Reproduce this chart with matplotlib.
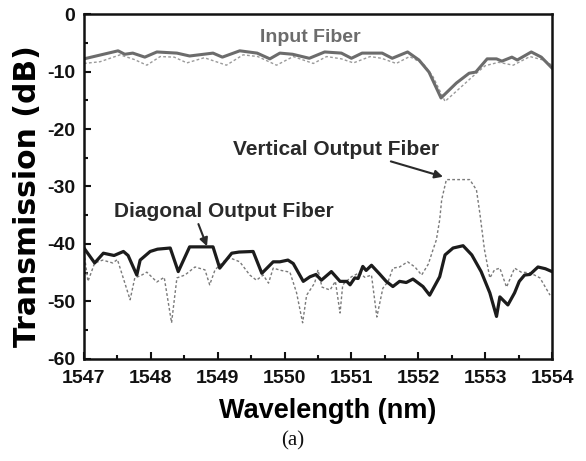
import matplotlib
matplotlib.use("Agg")
import matplotlib.pyplot as plt
from matplotlib.ticker import MultipleLocator

# ---- data ----
input_solid_x = [1547.0, 1547.51, 1547.61, 1547.73, 1547.91, 1548.09, 1548.39, 1548.58, 1548.93, 1549.07,
                 1549.33, 1549.59, 1549.78, 1549.93, 1550.12, 1550.37, 1550.6, 1550.85, 1551.0, 1551.16,
                 1551.46, 1551.61, 1551.84, 1552.01, 1552.16, 1552.34, 1552.57, 1552.76, 1552.86, 1553.03,
                 1553.17, 1553.25, 1553.4, 1553.48, 1553.69, 1553.84, 1554.0]
input_solid_y = [-7.8, -6.4, -7.0, -6.8, -7.5, -6.6, -6.8, -7.3, -6.8, -7.5,
                 -6.4, -6.8, -7.8, -6.8, -7.0, -7.7, -6.6, -6.8, -7.7, -6.8,
                 -6.8, -7.7, -6.6, -8.0, -10.1, -14.6, -12.0, -10.3, -10.1, -7.8,
                 -7.8, -8.2, -7.5, -8.0, -6.6, -7.5, -9.4]

input_dot_x = [1547.0, 1547.24, 1547.54, 1547.75, 1547.94, 1548.14, 1548.35, 1548.54, 1548.8, 1549.13,
               1549.38, 1549.6, 1549.88, 1550.13, 1550.43, 1550.63, 1550.85, 1551.03, 1551.28, 1551.45,
               1551.67, 1551.87, 1552.07, 1552.22, 1552.4, 1552.62, 1552.82, 1553.0, 1553.2, 1553.42,
               1553.67, 1553.87, 1554.0]
input_dot_y = [-8.6, -8.3, -7.1, -7.9, -8.9, -7.4, -7.5, -8.5, -7.6, -8.9,
               -7.1, -7.4, -8.9, -7.4, -8.6, -7.4, -7.8, -8.5, -7.4, -7.7,
               -8.6, -7.4, -8.6, -10.9, -15.2, -12.9, -10.8, -9.0, -8.4, -8.9,
               -7.4, -8.0, -8.9]

vert_x = [1547.0, 1547.06, 1547.16, 1547.28, 1547.43, 1547.5, 1547.69, 1547.76, 1547.85, 1547.94,
          1548.09, 1548.2, 1548.31, 1548.39, 1548.51, 1548.66, 1548.81, 1548.88, 1548.96, 1549.08,
          1549.18, 1549.33, 1549.48, 1549.58, 1549.68, 1549.76, 1549.83, 1549.95, 1550.08, 1550.18,
          1550.27, 1550.33, 1550.45, 1550.5, 1550.56, 1550.68, 1550.76, 1550.83, 1550.87, 1551.0,
          1551.12, 1551.2, 1551.3, 1551.38, 1551.47, 1551.55, 1551.62, 1551.72, 1551.84, 1551.95,
          1552.05, 1552.15, 1552.22, 1552.27, 1552.32, 1552.35, 1552.42, 1552.77, 1552.87, 1552.92,
          1552.99, 1553.07, 1553.14, 1553.22, 1553.32, 1553.44, 1553.54, 1553.67, 1553.82, 1553.97]
vert_y = [-41.5, -46.5, -43.3, -42.8, -43.3, -42.7, -49.7, -45.9, -45.5, -44.9,
          -46.6, -45.8, -53.7, -45.9, -45.4, -44.0, -44.5, -47.1, -44.5, -43.1,
          -42.4, -43.1, -45.4, -46.3, -45.4, -46.8, -44.2, -44.6, -44.9, -48.5,
          -53.7, -48.9, -46.8, -44.5, -47.5, -48.0, -46.5, -52.0, -47.1, -45.7,
          -45.0, -45.8, -45.4, -52.7, -47.7, -46.5, -44.2, -44.0, -43.1, -44.0,
          -45.4, -43.5, -41.0, -39.3, -35.8, -32.3, -28.8, -28.8, -30.6, -34.6,
          -41.0, -45.9, -44.5, -44.2, -47.5, -44.2, -44.9, -45.0, -45.9, -48.9]

diag_x = [1547.0, 1547.16, 1547.29, 1547.45, 1547.59, 1547.66, 1547.79, 1547.84, 1547.99, 1548.1,
          1548.29, 1548.41, 1548.58, 1548.93, 1549.03, 1549.21, 1549.32, 1549.53, 1549.66, 1549.83,
          1549.93, 1550.05, 1550.13, 1550.28, 1550.38, 1550.47, 1550.55, 1550.62, 1550.7, 1550.83,
          1550.93, 1550.98, 1551.05, 1551.1, 1551.17, 1551.22, 1551.3, 1551.42, 1551.52, 1551.62,
          1551.72, 1551.82, 1551.92, 1552.07, 1552.17, 1552.32, 1552.4, 1552.52, 1552.67, 1552.8,
          1552.94, 1553.07, 1553.17, 1553.22, 1553.34, 1553.44, 1553.51, 1553.59, 1553.67, 1553.79,
          1553.9, 1554.0]
diag_y = [-40.7, -43.3, -41.6, -42.0, -41.3, -42.0, -45.4, -42.8, -41.3, -40.9,
          -40.7, -44.8, -40.5, -40.5, -44.2, -41.6, -41.4, -41.3, -45.1, -43.1,
          -43.1, -42.8, -43.4, -46.5, -45.7, -45.3, -46.3, -45.6, -44.8, -46.5,
          -46.5, -47.1, -45.9, -46.0, -43.9, -44.6, -43.7, -45.2, -46.5, -47.4,
          -46.5, -46.7, -46.1, -47.4, -48.9, -45.7, -41.9, -40.7, -40.3, -41.9,
          -44.8, -48.5, -52.6, -49.2, -50.6, -48.5, -46.5, -45.4, -45.3, -44.0,
          -44.3, -44.8]

xticks = [1547, 1548, 1549, 1550, 1551, 1552, 1553, 1554]
xtick_labels = ["1547", "1548", "1549", "1550", "1551", "1552", "1553", "1554"]
yticks = [0, -10, -20, -30, -40, -50, -60]
ytick_labels = ["0", "-10", "-20", "-30", "-40", "-50", "-60"]

# ---- figure ----
plt.rcParams['font.family'] = ['Liberation Sans', 'DejaVu Sans']
fig = plt.figure(figsize=(5.86, 4.61), dpi=100)
ax = fig.add_axes([0.1433, 0.2213, 0.7987, 0.7483])

ax.plot(input_dot_x, input_dot_y, color='#9a9a9a', lw=1.0, linestyle=(0, (2.0, 1.6)))
ax.plot(input_solid_x, input_solid_y, color='#6c6c6c', lw=2.2)
ax.plot(vert_x, vert_y, color='#7a7a7a', lw=1.0, linestyle=(0, (2.0, 1.6)))
ax.plot(diag_x, diag_y, color='#1c1c1c', lw=2.3)

ax.set_xlim(1547, 1554)
ax.set_ylim(-60, 0)
ax.set_xticks(xticks)
ax.set_xticklabels(xtick_labels)
ax.set_yticks(yticks)
ax.set_yticklabels(ytick_labels)
ax.xaxis.set_minor_locator(MultipleLocator(0.5))
ax.yaxis.set_minor_locator(MultipleLocator(5))
ax.tick_params(which='both', direction='in', top=False, right=False, width=1.5, colors='#111111')
ax.tick_params(which='major', length=5, labelsize=14)
ax.tick_params(axis='x', which='major', pad=8)
ax.tick_params(axis='y', which='major', pad=6.5)
ax.tick_params(which='minor', length=3)
for lab in ax.get_xticklabels() + ax.get_yticklabels():
    lab.set_fontweight('bold')
for s in ax.spines.values():
    s.set_linewidth(1.8)
    s.set_color('#111111')

ax.set_xlabel("Wavelength (nm)", fontsize=19.5, fontweight='bold')
ax.xaxis.set_label_coords(0.521, -0.113)
ax.set_ylabel("Transmission (dB)", fontsize=21.5, fontweight='bold', family=['DejaVu Sans'])
ax.yaxis.set_label_coords(-0.09, 0.472)

ax.text(1550.38, -4.0, "Input Fiber", fontsize=14, fontweight='bold', color='#6c6c6c',
        ha='center', va='center')
ax.annotate("Vertical Output Fiber", xy=(1552.37, -28.3), xytext=(1550.77, -23.5),
            fontsize=15, fontweight='bold', color='#2a2a2a', ha='center', va='center',
            arrowprops=dict(arrowstyle='-|>', color='#2a2a2a', lw=1.5, mutation_scale=12,
                            shrinkA=0, shrinkB=0, relpos=(0.72, 0.0)))
ax.annotate("Diagonal Output Fiber", xy=(1548.84, -40.4), xytext=(1549.09, -34.4),
            fontsize=15, fontweight='bold', color='#2a2a2a', ha='center', va='center',
            arrowprops=dict(arrowstyle='-|>', color='#2a2a2a', lw=1.5, mutation_scale=12,
                            shrinkA=0, shrinkB=0, relpos=(0.38, 0.0)))

fig.text(293 / 586, 1 - 441 / 461, "(a)", fontsize=15, family='Liberation Serif',
         ha='center', va='center', color='#111111')

fig.savefig("out.png", dpi=100)
